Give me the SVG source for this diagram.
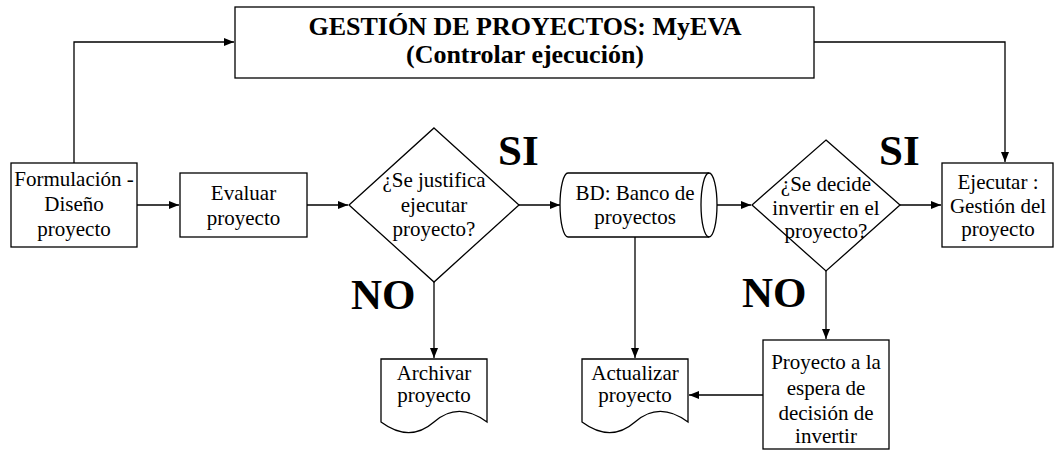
<svg xmlns="http://www.w3.org/2000/svg" width="1056" height="450" viewBox="0 0 1056 450" font-family="'Liberation Serif', Tinos, 'Times New Roman', 'DejaVu Serif', serif">
<style>
.s{fill:#fff;stroke:#000;stroke-width:1.3}
.t{font-family:'Liberation Serif',Tinos,'Times New Roman','DejaVu Serif',serif;font-size:21px;fill:#000;text-anchor:middle}
.h{font-family:'Liberation Serif',Tinos,'Times New Roman','DejaVu Serif',serif;font-size:26px;font-weight:bold;fill:#000;text-anchor:middle}
.b{font-family:'Liberation Serif',Tinos,'Times New Roman','DejaVu Serif',serif;font-size:43px;font-weight:bold;fill:#000}
.c{fill:none;stroke:#000;stroke-width:1.3}
</style>
<defs>
<marker id="ar" viewBox="0 0 10 8" refX="10" refY="4" markerWidth="10" markerHeight="8" markerUnits="userSpaceOnUse" orient="auto">
<path d="M0,0 L10,4 L0,8 Z" fill="#000"/>
</marker>
</defs>
<rect width="1056" height="450" fill="#fff"/>
<g id="connectors">
<path class="c" d="M74,163 V42 H234" marker-end="url(#ar)"/>
<path class="c" d="M814,42 H1005 V162" marker-end="url(#ar)"/>
<path class="c" d="M137,205 H179" marker-end="url(#ar)"/>
<path class="c" d="M307,205 H348" marker-end="url(#ar)"/>
<path class="c" d="M519,205 H560" marker-end="url(#ar)"/>
<path class="c" d="M717,205 H751" marker-end="url(#ar)"/>
<path class="c" d="M900,205 H941" marker-end="url(#ar)"/>
<path class="c" d="M434,282 V358" marker-end="url(#ar)"/>
<path class="c" d="M635,237 V358" marker-end="url(#ar)"/>
<path class="c" d="M826,271 V339" marker-end="url(#ar)"/>
<path class="c" d="M763,395 H689" marker-end="url(#ar)"/>
</g>
<g id="gestion">
<rect class="s" x="235" y="7" width="579" height="71"/>
<text class="h" x="525" y="35">GESTIÓN DE PROYECTOS: MyEVA</text>
<text class="h" x="525" y="63">(Controlar ejecución)</text>
</g>
<g id="formulacion">
<rect class="s" x="11" y="163" width="126" height="84"/>
<text class="t" x="74" y="186">Formulación -</text>
<text class="t" x="74" y="211">Diseño</text>
<text class="t" x="74" y="236">proyecto</text>
</g>
<g id="evaluar">
<rect class="s" x="180" y="173" width="127" height="64"/>
<text class="t" x="243.5" y="200">Evaluar</text>
<text class="t" x="243.5" y="225">proyecto</text>
</g>
<g id="decision1">
<polygon class="s" points="434,128 519,205 434,282 349,205"/>
<text class="t" x="434" y="187">¿Se justifica</text>
<text class="t" x="434" y="212">ejecutar</text>
<text class="t" x="434" y="236">proyecto?</text>
</g>
<g id="bd">
<path class="s" d="M568,173 H709 A8,32 0 0 1 709,237 H568 A8,32 0 0 1 568,173 Z"/>
<path class="c" d="M709,173 A8,32 0 0 0 709,237"/>
<text class="t" x="635" y="200">BD: Banco de</text>
<text class="t" x="635" y="224">proyectos</text>
</g>
<g id="decision2">
<polygon class="s" points="826,140 900,205 826,271 752,205"/>
<text class="t" x="826" y="191">¿Se decide</text>
<text class="t" x="826" y="215">invertir en el</text>
<text class="t" x="826" y="238">proyecto?</text>
</g>
<g id="ejecutar">
<rect class="s" x="942" y="163" width="111" height="84"/>
<text class="t" x="998" y="189">Ejecutar :</text>
<text class="t" x="998" y="213">Gestión del</text>
<text class="t" x="998" y="236">proyecto</text>
</g>
<g id="archivar">
<path class="s" d="M381,359 H487 V422 C468,408 450,408 434,422 C418,436 400,436 381,422 Z"/>
<text class="t" x="434" y="380">Archivar</text>
<text class="t" x="434" y="402">proyecto</text>
</g>
<g id="actualizar">
<path class="s" d="M582,359 H688 V422 C669,408 651,408 635,422 C619,436 601,436 582,422 Z"/>
<text class="t" x="635" y="380">Actualizar</text>
<text class="t" x="635" y="402">proyecto</text>
</g>
<g id="espera">
<rect class="s" x="763" y="340" width="126" height="109"/>
<text class="t" x="826" y="369">Proyecto a la</text>
<text class="t" x="826" y="395">espera de</text>
<text class="t" x="826" y="420">decisión de</text>
<text class="t" x="826" y="443">invertir</text>
</g>
<g id="labels">
<text class="b" x="498" y="165">SI</text>
<text class="b" x="879" y="165">SI</text>
<text class="b" x="351" y="309">NO</text>
<text class="b" x="742" y="307">NO</text>
</g>
</svg>
